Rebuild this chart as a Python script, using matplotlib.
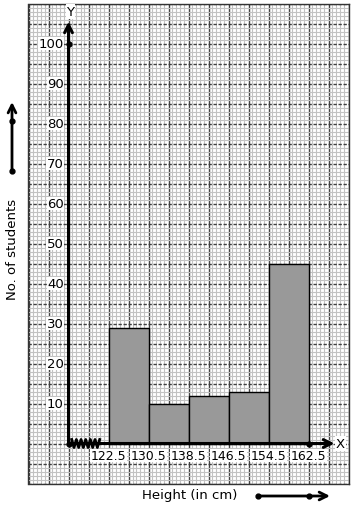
import matplotlib
matplotlib.use("Agg")
import matplotlib.pyplot as plt
import numpy as np

# ---- data ----
edge_labels = ["122.5", "130.5", "138.5", "146.5", "154.5", "162.5"]
counts = [29, 10, 12, 13, 45]
y_ticks = [10, 20, 30, 40, 50, 60, 70, 80, 90, 100]
x_label = "Height (in cm)"
y_label = "No. of students"

W, H = 354, 510
fig = plt.figure(figsize=(W / 100, H / 100), dpi=100)
ax = fig.add_axes([28.5 / W, (H - 484.5) / H, 320 / W, 480 / H])
ax.set_xlim(-1, 7)
ax.set_ylim(-10, 110)

# graph paper
ax.set_xticks(np.arange(-1, 7.01, 0.5))
ax.set_yticks(np.arange(-10, 110.01, 5))
ax.set_xticks(np.arange(-1, 7.01, 0.1), minor=True)
ax.set_yticks(np.arange(-10, 110.01, 1), minor=True)
ax.tick_params(which="both", length=0, labelbottom=False, labelleft=False)
ax.grid(which="minor", color="#c2c2c2", lw=0.8)
ax.grid(which="major", axis="x", color="#404040", lw=1.0)
ax.grid(which="major", axis="y", color="#404040", lw=1.0, linestyle=(0, (2.4, 1.2)))
ax.set_axisbelow(True)
for s in ax.spines.values():
    s.set_color("#333333")
    s.set_linewidth(1.0)

# bars (class i occupies unit i+1 on the x scale)
pos = np.arange(len(counts)) + 1
ax.bar(pos, counts, width=1, align="edge", color="#999999",
       edgecolor="black", linewidth=1, zorder=3)

# axes arrows
ax.annotate("", xy=(0, 105.5), xytext=(0, 0),
            arrowprops=dict(arrowstyle="->", lw=2.2, color="black",
                            mutation_scale=14, shrinkA=0, shrinkB=0), zorder=5)
ax.annotate("", xy=(6.65, 0), xytext=(0, 0),
            arrowprops=dict(arrowstyle="->", lw=2.2, color="black",
                            mutation_scale=14, shrinkA=0, shrinkB=0), zorder=5)
ax.text(0.05, 108, "Y", ha="center", va="center", fontsize=9.5,
        bbox=dict(fc="white", ec="none", pad=0.5), zorder=6)
ax.text(6.8, 0, "X", ha="center", va="center", fontsize=9.5,
        bbox=dict(fc="white", ec="none", pad=0.5), zorder=6)

# kink on x axis
zx = np.linspace(0.08, 0.78, 13)
zy = np.where(np.arange(13) % 2 == 0, 1.0, -1.0)
ax.plot(zx, zy, color="black", lw=2.0, zorder=6, solid_joinstyle="round")

# dots
ax.plot([0, 0, 6], [0, 100, 0], "o", color="black", ms=3.5, zorder=7)

# tick labels
for v in y_ticks:
    ax.text(-0.12, v, str(v), ha="right", va="center", fontsize=9.5,
            bbox=dict(fc="white", ec="none", pad=0.3), zorder=6)
for i, lab in enumerate(edge_labels):
    ax.text(i + 1, -3, lab, ha="center", va="center", fontsize=9,
            bbox=dict(fc="white", ec="none", pad=0.3), zorder=6)

# axis titles
fig.text(190 / W, (H - 496) / H, x_label, ha="center", va="center", fontsize=9.5)
fig.text(13 / W, (H - 249) / H, y_label, ha="center", va="center", fontsize=9.5,
         rotation=90)

# side arrows
fa = dict(arrowstyle="->", lw=2, color="black", mutation_scale=14,
          shrinkA=0, shrinkB=0)
ax.annotate("", xy=(12, H - 103), xytext=(12, H - 172),
            xycoords="figure pixels", textcoords="figure pixels",
            arrowprops=fa, annotation_clip=False)
ax.annotate("", xy=(330, H - 497), xytext=(258, H - 497),
            xycoords="figure pixels", textcoords="figure pixels",
            arrowprops=fa, annotation_clip=False)
for (px, py) in [(12, 172), (12, 122), (258, 497), (309, 497)]:
    fig.add_artist(plt.Line2D([px / W], [(H - py) / H], marker="o",
                              color="black", ms=3.5, transform=fig.transFigure))

fig.savefig("out.png", dpi=100)
